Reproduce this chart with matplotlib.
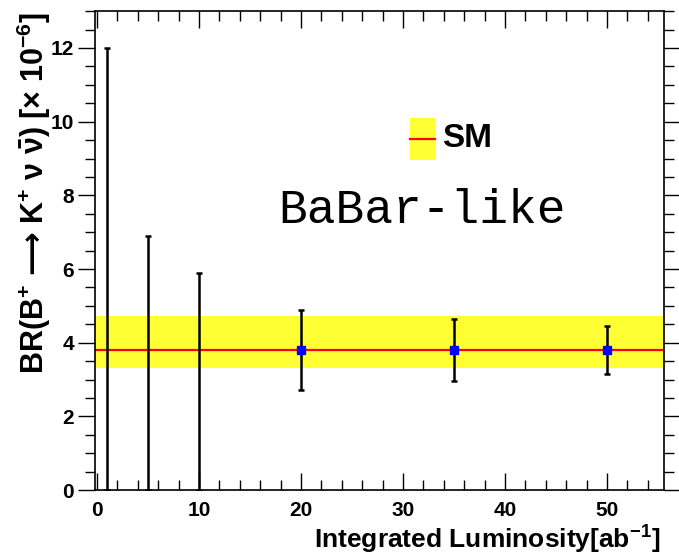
import numpy as np
import matplotlib.pyplot as plt
from matplotlib.ticker import MultipleLocator
from matplotlib.patches import Rectangle
from matplotlib.lines import Line2D

# --- dados ---
ul_lumi = [1, 5, 10]            # pontos com so limite superior
ul_values = [12.0, 6.9, 5.9]

meas_lumi = [20, 35, 50]
meas_central = [3.8, 3.8, 3.8]
meas_err_low = [1.09, 0.85, 0.65]
meas_err_high = [1.09, 0.85, 0.65]

sm_central = 3.8
sm_low = 3.32
sm_high = 4.74

plt.rcParams['font.family'] = ['Liberation Sans', 'DejaVu Sans']
plt.rcParams['font.weight'] = 'bold'
plt.rcParams['mathtext.fontset'] = 'custom'
plt.rcParams['mathtext.rm'] = 'Liberation Sans:bold'
plt.rcParams['mathtext.it'] = 'Liberation Sans:italic'
plt.rcParams['mathtext.bf'] = 'Liberation Sans:bold'
plt.rcParams['mathtext.sf'] = 'Liberation Sans'
plt.rcParams['mathtext.cal'] = 'DejaVu Sans'

fig = plt.figure(figsize=(6.79, 5.57), dpi=100)
ax = fig.add_axes([0.140, 0.120, 0.838, 0.860])

xmin, xmax = -0.2, 55.6
ax.set_xlim(xmin, xmax)
ax.set_ylim(0, 13)

# banda do SM
ax.axhspan(sm_low, sm_high, color='#ffff33', lw=0, zorder=1)
ax.axhline(sm_central, color='red', lw=1.6, zorder=2)

# limites superiores
ax.errorbar(ul_lumi, [0] * len(ul_lumi), yerr=[[0] * len(ul_lumi), ul_values],
            fmt='none', ecolor='black', elinewidth=1.8, capsize=2, capthick=1.8, zorder=3)

# medidas
ax.errorbar(meas_lumi, meas_central, yerr=[meas_err_low, meas_err_high],
            fmt='s', color='blue', ms=6, ecolor='black', elinewidth=1.8,
            capsize=2, capthick=1.8, zorder=4)

ax.xaxis.set_major_locator(MultipleLocator(10))
ax.xaxis.set_minor_locator(MultipleLocator(2))
ax.yaxis.set_major_locator(MultipleLocator(2))
ax.yaxis.set_minor_locator(MultipleLocator(0.5))

ax.tick_params(axis='x', which='both', direction='in', top=True, bottom=True,
               labelsize=15, pad=8, width=1)
ax.tick_params(axis='x', which='major', length=12)
ax.tick_params(axis='x', which='minor', length=7)
ax.tick_params(axis='y', which='both', direction='out', left=True, right=True,
               labelsize=15, pad=3, width=1)
ax.tick_params(axis='y', which='major', length=12)
ax.tick_params(axis='y', which='minor', length=7)
for lab in ax.get_xticklabels() + ax.get_yticklabels():
    lab.set_fontweight('bold')
for sp in ax.spines.values():
    sp.set_linewidth(1.2)

# legenda SM desenhada a mao
ax.add_patch(Rectangle((30.7, 8.97), 2.45, 1.14, transform=ax.transData,
                       facecolor='#ffff33', edgecolor='none', zorder=5))
ax.add_line(Line2D([30.7, 33.15], [9.54, 9.54], color='red', lw=1.6, zorder=6))
ax.text(33.8, 9.54, 'SM', fontsize=24, fontweight='bold', va='center', ha='left')

ax.text(31.9, 7.58, 'BaBar-like', family=['Liberation Mono', 'DejaVu Sans Mono'],
        fontweight='normal', fontsize=34.5, ha='center', va='center')

fig.text(0.050, 0.979,
         'BR(B$^{+}$ $\\mathcal{\u27f6}$ K$^{+}$ $\\mathsf{\\nu}$ $\\bar{\\mathsf{\\nu}}$) [$\\mathsf{\\times}$ 10$^{-6}$]',
         rotation=90, ha='center', va='top', fontsize=22, fontweight='bold')
fig.text(0.972, 0.030, r'Integrated Luminosity[ab$^{-1}$]',
         ha='right', va='center', fontsize=19, fontweight='bold')

fig.savefig('out.png', dpi=100)
